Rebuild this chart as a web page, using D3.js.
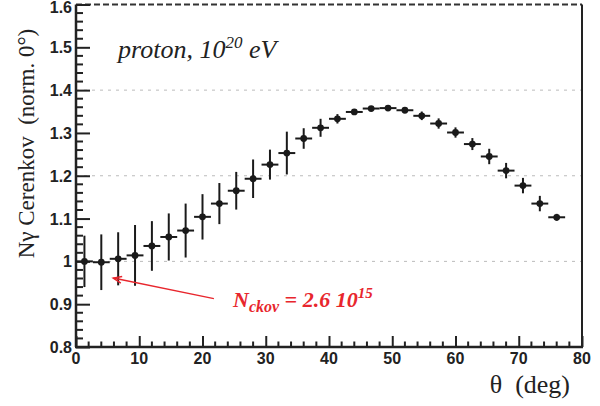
<!DOCTYPE html>
<html>
<head>
<meta charset="utf-8">
<script src="https://cdn.jsdelivr.net/npm/d3@7"></script>
<style>
  body { margin: 0; background: #fff; }
  svg { display: block; }
  text { white-space: pre; }
</style>
</head>
<body>
<svg id="chart" width="600" height="406"></svg>
<script>
// bin centres (deg), 30 bins of 80/30 deg, last one empty
const BIN_W = 80 / 30;
const theta = d3.range(29).map(i => (i + 0.5) * BIN_W);

// N_gamma Cerenkov normalised to 0 deg
const values = [1.000, 0.998, 1.006, 1.014, 1.036, 1.057, 1.072, 1.104, 1.135, 1.165,
                1.193, 1.226, 1.253, 1.287, 1.312, 1.333, 1.349, 1.357, 1.358, 1.353,
                1.340, 1.322, 1.301, 1.274, 1.245, 1.212, 1.177, 1.135, 1.103];
const errors = [0.060, 0.065, 0.062, 0.071, 0.058, 0.055, 0.063, 0.053, 0.048, 0.044,
                0.045, 0.035, 0.050, 0.024, 0.021, 0.011, 0.006, 0.005, 0.005, 0.006,
                0.010, 0.012, 0.012, 0.014, 0.018, 0.018, 0.018, 0.018, 0.008];

const xTicks = [0, 10, 20, 30, 40, 50, 60, 70, 80];
const yTicks = [0.8, 0.9, 1.0, 1.1, 1.2, 1.3, 1.4, 1.5, 1.6];
const yGrid = [1.0, 1.2, 1.4];

const margin = {left: 76, right: 18, top: 4.5, bottom: 59};
const W = 600, H = 406;

const svg = d3.select("#chart");
const x = d3.scaleLinear().domain([0, 80]).range([margin.left, W - margin.right]);
const y = d3.scaleLinear().domain([0.8, 1.6]).range([H - margin.bottom, margin.top]);

const SANS = "'Liberation Sans', Arial, sans-serif";
const SERIF = "'Liberation Serif', 'Times New Roman', serif";
const RED = "#e8262d";

// grid
svg.append("g").selectAll("line")
  .data(yGrid)
  .join("line")
  .attr("x1", x(0)).attr("x2", x(80))
  .attr("y1", d => y(d)).attr("y2", d => y(d))
  .attr("stroke", "#bbb").attr("stroke-width", 1)
  .attr("stroke-dasharray", "3,5");

// frame: top dashed, right solid
svg.append("line")
  .attr("x1", x(0)).attr("x2", x(80)).attr("y1", y(1.6)).attr("y2", y(1.6))
  .attr("stroke", "#333").attr("stroke-width", 2).attr("stroke-dasharray", "6,3");
svg.append("line")
  .attr("x1", x(80)).attr("x2", x(80)).attr("y1", y(1.6)).attr("y2", y(0.8))
  .attr("stroke", "#222").attr("stroke-width", 2);

// y axis (ticks pointing inwards)
const yAxis = d3.axisRight(y).tickValues(yTicks).tickSize(14).tickFormat("");
const gy = svg.append("g").attr("transform", `translate(${x(0)},0)`).call(yAxis);
gy.select(".domain").remove();
gy.selectAll(".tick line").attr("stroke", "#222").attr("stroke-width", 2);
const yMinor = d3.range(0.8, 1.6001, 0.02).filter(v => Math.abs(v * 10 - Math.round(v * 10)) > 1e-6);
svg.append("g").selectAll("line").data(yMinor).join("line")
  .attr("x1", x(0)).attr("x2", x(0) + 7)
  .attr("y1", d => y(d)).attr("y2", d => y(d))
  .attr("stroke", "#222").attr("stroke-width", 2);
svg.append("g").selectAll("text").data(yTicks).join("text")
  .attr("x", x(0) - 4).attr("y", d => Math.max(y(d) + 6, 13))
  .attr("text-anchor", "end")
  .attr("font-family", SANS).attr("font-weight", "bold").attr("font-size", 16)
  .attr("fill", "#222")
  .text(d => d === 1 ? "1" : d3.format(".1f")(d));

// x axis
const xAxis = d3.axisTop(x).tickValues(xTicks).tickSize(11).tickFormat("");
const gx = svg.append("g").attr("transform", `translate(0,${y(0.8)})`).call(xAxis);
gx.select(".domain").remove();
gx.selectAll(".tick line").attr("stroke", "#222").attr("stroke-width", 2);
const xMinor = d3.range(0, 80.001, 2).filter(v => v % 10 !== 0);
svg.append("g").selectAll("line").data(xMinor).join("line")
  .attr("x1", d => x(d)).attr("x2", d => x(d))
  .attr("y1", y(0.8)).attr("y2", y(0.8) - 5.5)
  .attr("stroke", "#222").attr("stroke-width", 2);
svg.append("g").selectAll("text").data(xTicks).join("text")
  .attr("x", d => x(d)).attr("y", y(0.8) + 16.5)
  .attr("text-anchor", "middle")
  .attr("font-family", SANS).attr("font-weight", "bold").attr("font-size", 16)
  .attr("fill", "#222")
  .text(d => d);

// axis lines
svg.append("line")
  .attr("x1", x(0)).attr("x2", x(0)).attr("y1", y(1.6)).attr("y2", y(0.8))
  .attr("stroke", "#222").attr("stroke-width", 2.5);
svg.append("line")
  .attr("x1", x(0) - 1).attr("x2", x(80) + 1).attr("y1", y(0.8)).attr("y2", y(0.8))
  .attr("stroke", "#222").attr("stroke-width", 2.5);

// data: error bars + markers
const pts = theta.map((t, i) => ({t, v: values[i], e: errors[i]}));
const gp = svg.append("g");
gp.selectAll(".xe").data(pts).join("line")
  .attr("x1", d => x(d.t - BIN_W / 2)).attr("x2", d => x(d.t + BIN_W / 2))
  .attr("y1", d => y(d.v)).attr("y2", d => y(d.v))
  .attr("stroke", "#1a1a1a").attr("stroke-width", 2);
gp.selectAll(".ye").data(pts).join("line")
  .attr("x1", d => x(d.t)).attr("x2", d => x(d.t))
  .attr("y1", d => y(d.v + d.e)).attr("y2", d => y(d.v - d.e))
  .attr("stroke", "#1a1a1a").attr("stroke-width", 2);
gp.selectAll("circle").data(pts).join("circle")
  .attr("cx", d => x(d.t)).attr("cy", d => y(d.v)).attr("r", 3.4)
  .attr("fill", "#1a1a1a");

// label
const lab = svg.append("text")
  .attr("x", 118).attr("y", 58)
  .attr("font-family", SERIF).attr("font-style", "italic").attr("font-size", 26)
  .attr("fill", "#222");
lab.append("tspan").text("proton, 10");
lab.append("tspan").attr("dy", -10).attr("font-size", 17).text("20");
lab.append("tspan").attr("dy", 10).text(" eV");

// annotation arrow
const tip = [5.9, 0.961], tail = [21.8, 0.913];
const x1 = x(tail[0]), y1 = y(tail[1]), x2 = x(tip[0]), y2 = y(tip[1]);
svg.append("line")
  .attr("x1", x1).attr("y1", y1).attr("x2", x2).attr("y2", y2)
  .attr("stroke", RED).attr("stroke-width", 1.5);
const ang = Math.atan2(y1 - y2, x1 - x2);
const hl = 9, ha = 0.38;
svg.append("path")
  .attr("d", `M${x2 + hl * Math.cos(ang - ha)},${y2 + hl * Math.sin(ang - ha)}L${x2},${y2}L${x2 + hl * Math.cos(ang + ha)},${y2 + hl * Math.sin(ang + ha)}`)
  .attr("fill", "none").attr("stroke", RED).attr("stroke-width", 1.5);

const ann = svg.append("text")
  .attr("x", 233).attr("y", 306.5)
  .attr("font-family", SERIF).attr("font-style", "italic").attr("font-weight", "bold")
  .attr("font-size", 22).attr("fill", RED);
ann.append("tspan").text("N");
ann.append("tspan").attr("dy", 5).attr("font-size", 16).text("ckov");
ann.append("tspan").attr("dy", -5).text(" = 2.6 10");
ann.append("tspan").attr("dy", -9).attr("font-size", 15).text("15");

// axis titles
svg.append("text")
  .attr("transform", `translate(33.5,143.5) rotate(-90)`)
  .attr("text-anchor", "middle")
  .attr("font-family", SERIF).attr("font-size", 23).attr("fill", "#222")
  .text("N\u03b3 Cerenkov  (norm. 0\u00b0)");

svg.append("text")
  .attr("x", 570).attr("y", 393)
  .attr("text-anchor", "end")
  .attr("font-family", SERIF).attr("font-size", 26).attr("fill", "#222")
  .text("\u03b8  (deg)");
</script>
</body>
</html>
